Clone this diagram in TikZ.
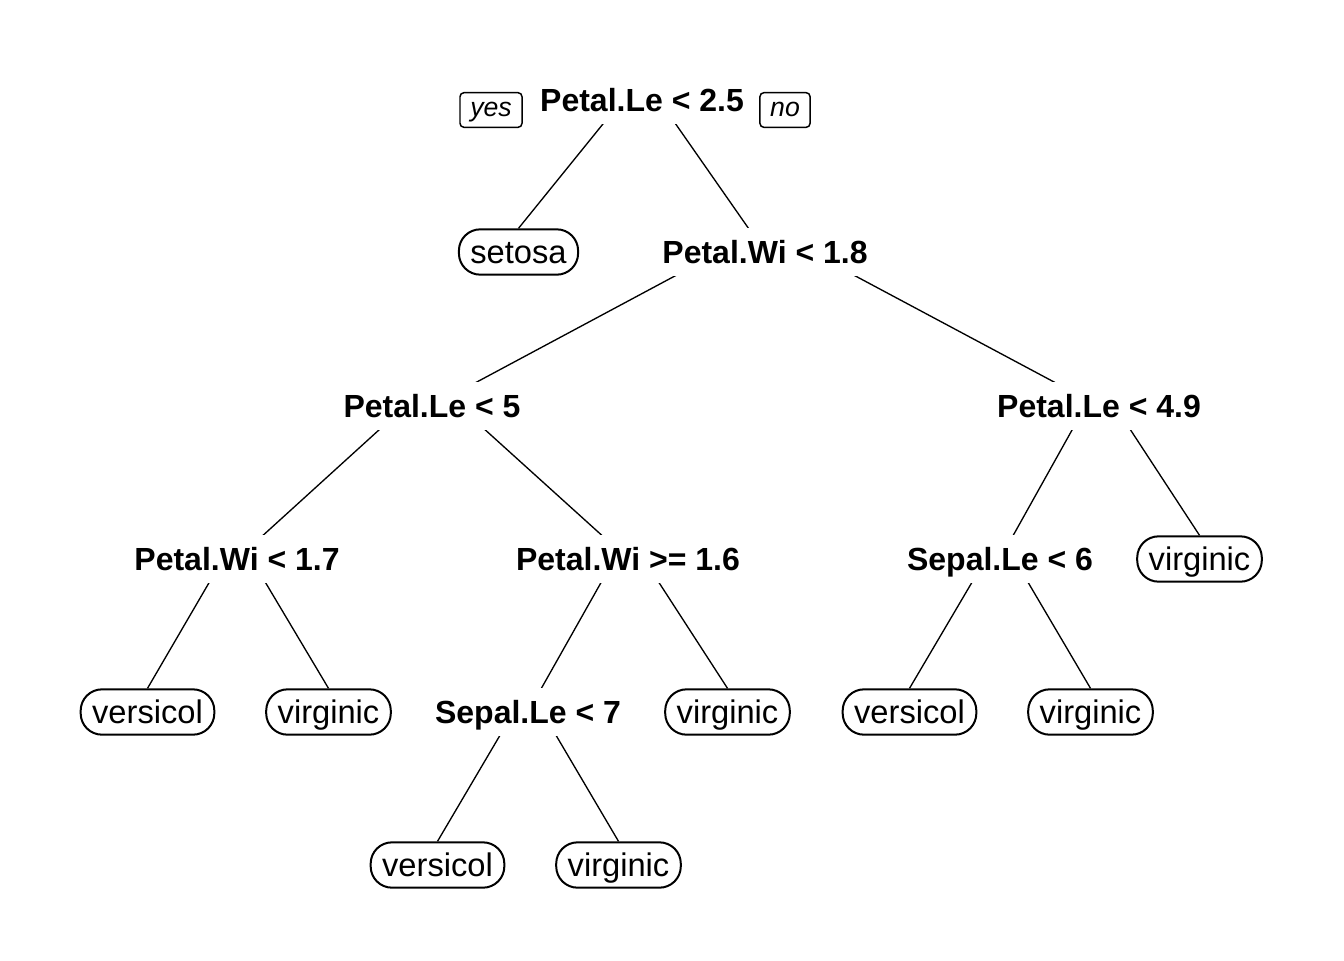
\documentclass[tikz,border=0pt]{standalone}
\usepackage{fontspec}
\setmainfont{Liberation Sans}
\usetikzlibrary{backgrounds}

\tikzset{
  split/.style={fill=white, inner xsep=3pt, inner ysep=9.5pt, text height=17pt, text depth=0pt, font=\fontsize{24}{28}\selectfont\bfseries},
  leaf/.style={draw, line width=1.5pt, rounded corners=16pt, fill=white, inner xsep=8.6pt, inner ysep=0pt, minimum height=34pt, text height=17pt, text depth=0pt, font=\fontsize{24.5}{28}\selectfont},
  yesno/.style={draw, line width=1.1pt, rounded corners=3pt, inner xsep=7.7pt, inner ysep=4pt, text height=14pt, text depth=4pt, font=\fontsize{20}{24}\selectfont\itshape},
  branch/.style={line width=1pt, shorten <=3pt}
}

\begin{document}
\begin{tikzpicture}[x=0.75pt,y=0.75pt,yscale=-1,xscale=1]
\useasboundingbox (0,0) rectangle (1344,960);

% Split Nodes
\node[split] (root) at (642,100) {Petal.Le < 2.5};
\node[split] (pw18) at (765,252) {Petal.Wi < 1.8};
\node[split] (pl5) at (432,406) {Petal.Le < 5};
\node[split] (pl49) at (1099,406) {Petal.Le < 4.9};
\node[split] (pw17) at (237,559) {Petal.Wi < 1.7};
\node[split] (pw16) at (628,559) {Petal.Wi >= 1.6};
\node[split] (sl6) at (1000,559) {Sepal.Le < 6};
\node[split] (sl7) at (528,712) {Sepal.Le < 7};

% Text Node
\node[yesno] (yes) at (491,110) {yes};
\node[yesno] (no) at (785,110) {no};

% Leaf Nodes
\node[leaf] (setosa) at (518.5,252) {setosa};
\node[leaf] (vg6) at (1199.5,559) {virginic};
\node[leaf] (vc1) at (147.5,712) {versicol};
\node[leaf] (vg1) at (328.5,712) {virginic};
\node[leaf] (vg2) at (727.5,712) {virginic};
\node[leaf] (vc2) at (909.5,712) {versicol};
\node[leaf] (vg3) at (1090.5,712) {virginic};
\node[leaf] (vc3) at (437.5,865) {versicol};
\node[leaf] (vg4) at (618.5,865) {virginic};

%Straight Lines
\begin{scope}[on background layer]
\draw[branch] (root.north) -- (setosa.north);
\draw[branch] (root.north) -- (pw18.center);
\draw[branch] (pw18.north) -- (pl5.center);
\draw[branch] (pw18.north) -- (pl49.center);
\draw[branch] (pl5.north) -- (pw17.center);
\draw[branch] (pl5.north) -- (pw16.center);
\draw[branch] (pl49.north) -- (sl6.center);
\draw[branch] (pl49.north) -- (vg6.north);
\draw[branch] (pw17.north) -- (vc1.north);
\draw[branch] (pw17.north) -- (vg1.north);
\draw[branch] (pw16.north) -- (sl7.center);
\draw[branch] (pw16.north) -- (vg2.north);
\draw[branch] (sl6.north) -- (vc2.north);
\draw[branch] (sl6.north) -- (vg3.north);
\draw[branch] (sl7.north) -- (vc3.north);
\draw[branch] (sl7.north) -- (vg4.north);
\end{scope}

\end{tikzpicture}
\end{document}
